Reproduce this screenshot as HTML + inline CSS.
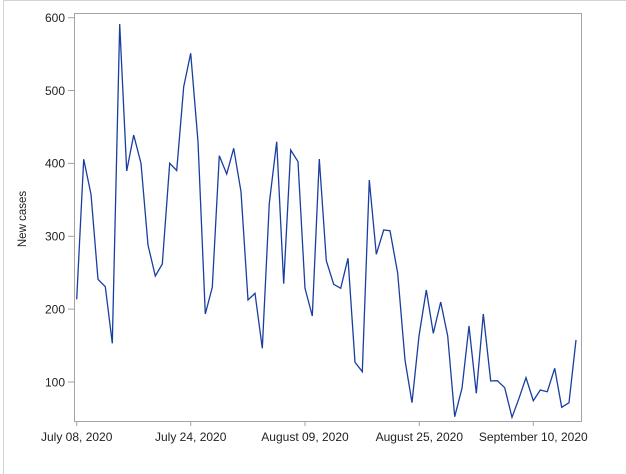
<!DOCTYPE html>
<html><head><meta charset="utf-8"><style>
html,body{margin:0;padding:0;background:#fff;}
svg{display:block;}
text{font-family:"Liberation Sans",Arial,sans-serif;fill:#222;}
</style></head><body>
<svg width="626" height="474" viewBox="0 0 626 474" xmlns="http://www.w3.org/2000/svg">
<rect x="0" y="0" width="626" height="474" fill="#fff"/>
<line x1="3" y1="0.5" x2="626" y2="0.5" stroke="#d4d4d4" stroke-width="1"/>
<line x1="3.5" y1="0" x2="3.5" y2="474" stroke="#d4d4d4" stroke-width="1"/>
<rect x="74.5" y="13.5" width="507" height="408" fill="none" stroke="#a3a3a3" stroke-width="1"/>
<g stroke="#a3a3a3" stroke-width="1">
<line x1="68" y1="17.7" x2="74" y2="17.7"/>
<line x1="68" y1="90.5" x2="74" y2="90.5"/>
<line x1="68" y1="163.4" x2="74" y2="163.4"/>
<line x1="68" y1="236.3" x2="74" y2="236.3"/>
<line x1="68" y1="309.1" x2="74" y2="309.1"/>
<line x1="68" y1="382" x2="74" y2="382"/>
<line x1="76.7" y1="422" x2="76.7" y2="426"/>
<line x1="190.7" y1="422" x2="190.7" y2="426"/>
<line x1="305" y1="422" x2="305" y2="426"/>
<line x1="419.3" y1="422" x2="419.3" y2="426"/>
<line x1="533.3" y1="422" x2="533.3" y2="426"/>
</g>
<g font-size="12" text-anchor="end">
<text x="65" y="22">600</text>
<text x="65" y="94.8">500</text>
<text x="65" y="167.7">400</text>
<text x="65" y="240.6">300</text>
<text x="65" y="313.4">200</text>
<text x="65" y="386.3">100</text>
</g>
<g font-size="12" text-anchor="middle">
<text x="76.7" y="441">July 08, 2020</text>
<text x="190.7" y="441">July 24, 2020</text>
<text x="305" y="441">August 09, 2020</text>
<text x="419.3" y="441">August 25, 2020</text>
<text x="533.3" y="441">September 10, 2020</text>
</g>
<text font-size="11.5" text-anchor="middle" transform="translate(26,219) rotate(-90)">New cases</text>
<polyline fill="none" stroke="#1a3ea0" stroke-width="1.3" stroke-linejoin="miter" points="
76.7,299.3 83.7,159.3 91,194.3 98,279.3 105.3,286.7 112.3,343.3 119.7,24 126.7,171 133.7,135 141,163.3
148,245 155.3,276 162.3,264 169.7,163.3 176.7,170.5 183.7,86.7 190.7,53.3 198,141.7 205.3,314 212.3,287.3
219.3,155.7 226.7,174 233.7,148.3 241,191.7 248,300 255,293.3 262.3,348.3 269.3,203.3 276.7,141.7 283.7,283.7
290.7,150 298,161.7 305,288.3 312.3,316 319.3,159 326.3,260.7 333.7,284.3 340.7,288.3 348,258.3 355,362.3
362.3,371.7 369.3,180 376.3,254.3 383.7,230 390,230.7 397.7,273.3 405,360 412,402.7 419,336 426.3,290
433.3,333.3 440.7,302 447.7,336 454.7,416.7 462,388.3 469,326 476.3,393.3 483.3,314 490.7,381 497.3,380.7
504.7,387.7 512,417.3 519,398.3 526,377.7 533.3,400.7 540.3,390 547.3,391.7 554.7,368.3 561.7,407.3 569,402.7
576,340"/>
</svg>
</body></html>
